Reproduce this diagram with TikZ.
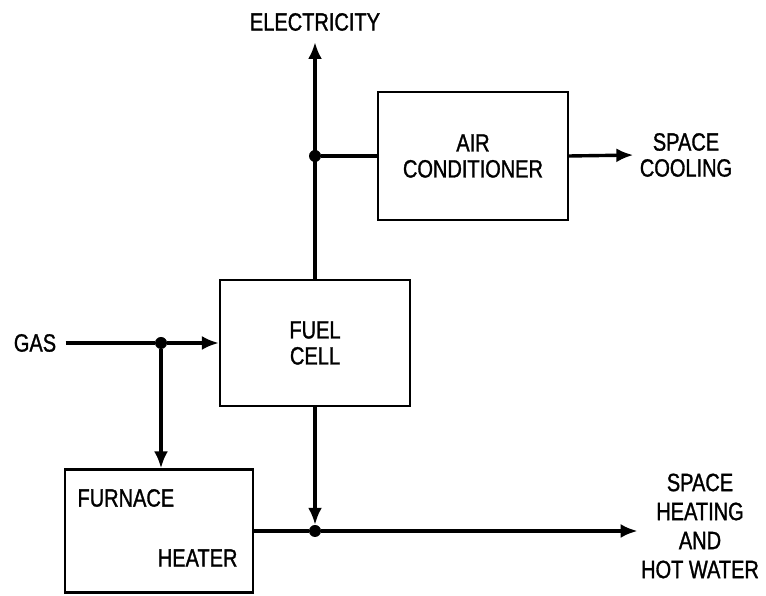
\documentclass[tikz,border=0pt]{standalone}
\usepackage{fontspec}
\setmainfont{Liberation Sans}[FakeStretch=0.8, FakeBold=1.2]
\usetikzlibrary{arrows.meta,positioning,calc}

\begin{document}
\begin{tikzpicture}[x=1pt, y=1pt,
    every node/.style={font=\fontsize{25}{26}\selectfont, align=center},
    block/.style={draw, line width=2.2pt, inner sep=0pt},
    flow/.style={-{Latex[length=17pt, width=14pt]}, line width=3.4pt},
    link/.style={line width=3.4pt},
    junction/.style={circle, fill, inner sep=0pt, minimum size=12pt}
]
\useasboundingbox (0,0) rectangle (766,596);
% units
\node[block, minimum width=190pt, minimum height=126pt] (fuel) at (315,253) {FUEL\\CELL};
\node[block, minimum width=190pt, minimum height=128pt] (ac) at (473,440) {AIR\\CONDITIONER};
\node[block, minimum width=188pt, minimum height=123pt] (furnace) at (159,65) {};
\node[anchor=west] (furnacetxt) at (74,98) {FURNACE};
\node[anchor=east] (heatertxt) at (241,38) {HEATER};
% labels
\node (elec) at (315,574) {ELECTRICITY};
\node (gas) at (35,253) {GAS};
\node (cool) at (686,441) {SPACE\\COOLING};
\node[font=\fontsize{25}{29}\selectfont] (heating) at (700,70) {SPACE\\HEATING\\AND\\HOT WATER};
% junctions
\node[junction] (acdot) at (315,440) {};
\node[junction] (gasdot) at (161,253) {};
\node[junction] (heatdot) at (315,65) {};
\coordinate (electip) at (315,554);
% flows
\draw[flow] (fuel.north) -- (electip);
\draw[link] (acdot) -- (ac.west);
\draw[flow, shorten >=3pt] (ac.east) -- (cool.west);
\draw[link, shorten <=6pt] (gas.east) -- (gasdot);
\draw[flow] (gasdot) -- (fuel.west);
\draw[flow] (gasdot) -- (gasdot |- furnace.north);
\draw[flow] (fuel.south) -- (heatdot);
\draw[link] (furnace.east |- heatdot) -- (heatdot);
\draw[flow] (heatdot) -- (heatdot -| heating.west);
\end{tikzpicture}
\end{document}
